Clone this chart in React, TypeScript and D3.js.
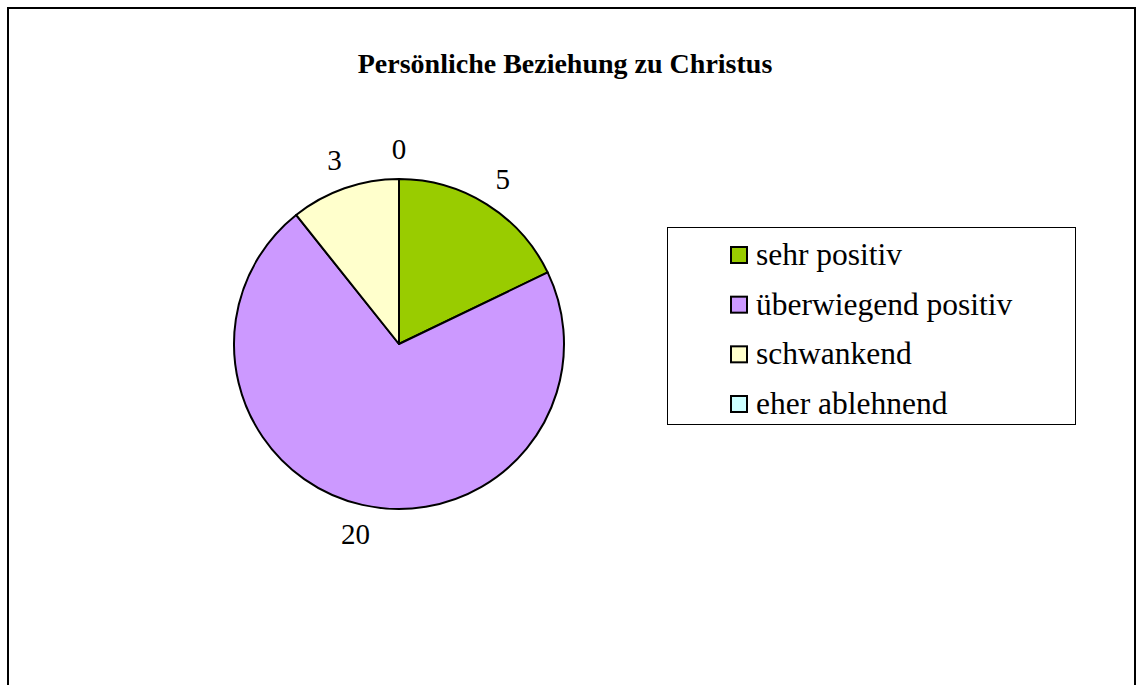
import React from "react";
import * as d3 from "d3";

const categories = ["sehr positiv", "überwiegend positiv", "schwankend", "eher ablehnend"];
const values = [5, 20, 3, 0];
const colors = ["#99CC00", "#CC99FF", "#FFFFCC", "#CCFFFF"];
const title = "Persönliche Beziehung zu Christus";

export default function App() {
  const W = 1142, H = 685;
  const cx = 399, cy = 344, r = 165, labelR = 195;
  const pie = d3.pie<number>().sort(null).value((d) => d);
  const arcs = pie(values);
  const arc = d3.arc<d3.PieArcDatum<number>>().innerRadius(0).outerRadius(r);
  const font = "'Liberation Serif', 'Times New Roman', serif";
  const legendY = d3.scalePoint<string>().domain(categories).range([255, 404]);
  return (
    <div style={{ position: "absolute", left: 0, top: 0 }}>
      <svg width={W} height={H} style={{ display: "block" }}>
        <rect x={0} y={0} width={W} height={H} fill="#fff" />
        <path d={`M8,${H} L8,8 L1135,8 L1135,${H}`} fill="none" stroke="#000" strokeWidth={2} />
        <text x={565} y={73} textAnchor="middle" fontFamily={font} fontSize={28} fontWeight="bold">{title}</text>
        <g transform={`translate(${cx},${cy})`}>
          {arcs.map((a, i) => (
            <path key={i} d={arc(a) || ""} fill={colors[i]} stroke="#000" strokeWidth={2} strokeLinejoin="round" />
          ))}
          {arcs.map((a, i) => {
            const mid = (a.startAngle + a.endAngle) / 2;
            return (
              <text key={"l" + i} x={Math.sin(mid) * labelR} y={-Math.cos(mid) * labelR + 10} textAnchor="middle" fontFamily={font} fontSize={29}>
                {values[i]}
              </text>
            );
          })}
        </g>
        <rect x={667.5} y={227.5} width={408} height={197} fill="#fff" stroke="#000" strokeWidth={1} />
        {categories.map((c, i) => {
          const y = legendY(c)!;
          return (
            <g key={c}>
              <rect x={731} y={y - 8} width={16} height={16} fill={colors[i]} stroke="#000" strokeWidth={2} />
              <text x={756} y={y + 10} fontFamily={font} fontSize={31.5}>{c}</text>
            </g>
          );
        })}
      </svg>
    </div>
  );
}
